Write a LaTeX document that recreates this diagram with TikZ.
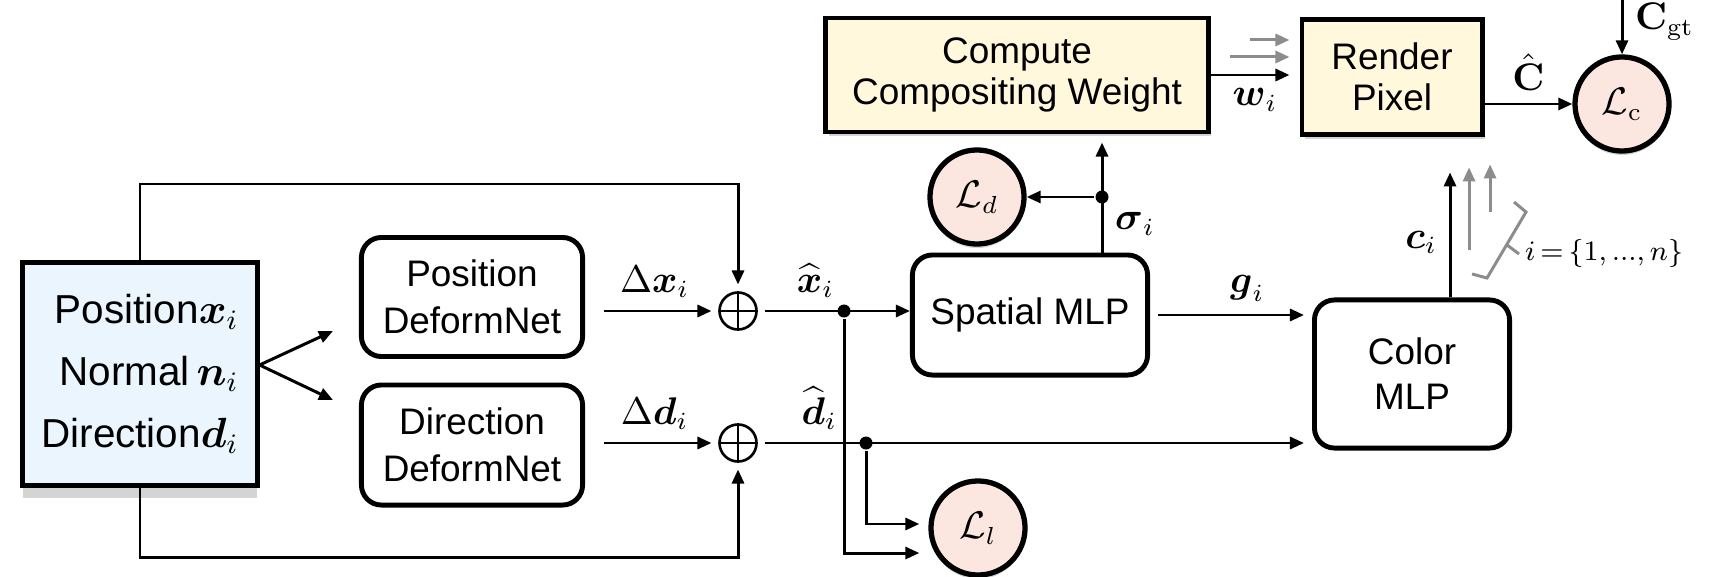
\documentclass[tikz,border=0pt]{standalone}
\usepackage{amsmath, amssymb}
\usepackage[no-math]{fontspec}
\setmainfont{Liberation Sans}
\usepackage{tikz}
\usetikzlibrary{arrows.meta, shadows}

\definecolor{inblue}{HTML}{EAF5FD}
\definecolor{softyellow}{HTML}{FFF8DC}
\definecolor{softpink}{HTML}{FCE7E0}
\definecolor{shadowgray}{HTML}{D4D4D4}

\begin{document}
\begin{tikzpicture}[x=0.01cm, y=-0.01cm, ->,
      >={Triangle[length=0.14cm,width=0.12cm]},
      line width=0.85pt,
      every node/.append style={font=\fontsize{10.5}{11.8}\selectfont},
      inbox/.style={draw=black, line width=1.4pt, fill=inblue, align=right,
        font=\fontsize{11.5}{17.6}\selectfont,
        drop shadow={shadow xshift=0cm, shadow yshift=-0.13cm, fill=shadowgray, opacity=1}},
      netbox/.style={draw=black, line width=1.4pt, rounded corners=0.2cm, fill=white, align=center},
      yellowbox/.style={draw=black, line width=1.4pt, fill=softyellow, align=center,
        drop shadow={shadow xshift=0.03cm, shadow yshift=-0.04cm, fill=shadowgray, opacity=1}},
      lossnode/.style={draw=black, circle, line width=1.5pt, fill=softpink, minimum size=0.94cm, inner sep=0pt,
        drop shadow={shadow xshift=0cm, shadow yshift=-0.04cm, fill=shadowgray, opacity=1}},
      plusnode/.style={draw=black, circle, line width=0.75pt, minimum size=0.37cm, inner sep=0pt, outer sep=0.08cm,
        path picture={\draw [-, line width=0.75pt] (path picture bounding box.north) -- (path picture bounding box.south)
          (path picture bounding box.west) -- (path picture bounding box.east);}},
      splitdot/.style={circle, fill=black, inner sep=0pt, minimum size=0.13cm},
      greyarrow/.style={draw=black!45}]
    \useasboundingbox (0,0) rectangle (1722,576);

    \node (input) [inbox, minimum width=2.34cm, minimum height=2.22cm] at (140,374)
      {Position$\boldsymbol{x}_i$\\Normal\,$\boldsymbol{n}_i$\\Direction$\boldsymbol{d}_i$};
    \node (posnet) [netbox, minimum width=2.21cm, minimum height=1.19cm, font=\fontsize{10.5}{13.4}\selectfont] at (472,297) {Position\\DeformNet};
    \node (dirnet) [netbox, minimum width=2.21cm, minimum height=1.2cm, font=\fontsize{10.5}{13.4}\selectfont] at (472,445) {Direction\\DeformNet};
    \node (plusx) [plusnode] at (738,311) {};
    \node (plusd) [plusnode] at (738,443) {};
    \node (spatial) [netbox, minimum width=2.35cm, minimum height=1.2cm] at (1030,315) {Spatial MLP};
    \node (color) [netbox, minimum width=1.95cm, minimum height=1.48cm, font=\fontsize{10.5}{12.8}\selectfont] at (1412,374) {Color\\MLP};
    \node (compute) [yellowbox, minimum width=3.82cm, minimum height=1.14cm] at (1017,75) {Compute\\Compositing Weight};
    \node (render) [yellowbox, minimum width=1.8cm, minimum height=1.15cm] at (1392,77) {Render\\Pixel};
    \node (Ld) [lossnode] at (977,197) {$\mathcal{L}_d$};
    \node (Ll) [lossnode] at (978,528) {$\mathcal{L}_l$};
    \node (Lc) [lossnode] at (1622,104) {$\mathcal{L}_{\mathrm{c}}$};
    \node (xsplit) [splitdot] at (844,311) {};
    \node (dsplit) [splitdot] at (866,443) {};
    \node (sigsplit) [splitdot] at (1102,197) {};

    \coordinate (topy) at (0,184);
    \coordinate (boty) at (0,557);
    \coordinate (fork) at ([yshift=0.09cm]input.east);
    \coordinate (gt) at (1622,0);

    \draw (input.north) |- (plusx |- topy) -- (plusx);
    \draw (input.south) |- (plusd |- boty) -- (plusd);
    \draw (fork) -- ([xshift=-0.26cm,yshift=-0.34cm]posnet.west);
    \draw (fork) -- ([xshift=-0.26cm,yshift=0.45cm]dirnet.west);
    \draw [shorten <=0.19cm] (posnet.east |- plusx) -- (plusx) node [pos=0.55, above] {$\Delta\boldsymbol{x}_i$};
    \draw [shorten <=0.19cm] (dirnet.east |- plusd) -- (plusd) node [pos=0.55, above] {$\Delta\boldsymbol{d}_i$};
    \draw (plusx) -- (spatial.west |- plusx) node [pos=0.35, above] {$\widehat{\boldsymbol{x}}_i$};
    \draw [shorten >=0.08cm] (plusd) -- (color.west |- plusd) node [pos=0.1, above] {$\widehat{\boldsymbol{d}}_i$};
    \draw (xsplit) |- ([xshift=-0.09cm,yshift=-0.25cm]Ll.west);
    \draw (dsplit) |- ([xshift=-0.09cm,yshift=0.04cm]Ll.west);
    \draw [shorten <=0.08cm, shorten >=0.08cm] (spatial.east) -- (color.west |- spatial.east) node [pos=0.6, above] {$\boldsymbol{g}_i$};
    \draw [shorten >=0.08cm] (sigsplit |- spatial.north) -- (sigsplit |- compute.south) node [pos=0.24, right] {$\boldsymbol{\sigma}_i$};
    \draw (sigsplit) -- (Ld);
    \draw [shorten >=0.1cm] (compute.east) -- (render.west |- compute.east) node [midway, below] {$\boldsymbol{w}_i$};
    \draw [greyarrow, shorten >=0.1cm] ([xshift=-0.49cm,yshift=0.37cm]render.west) -- ([yshift=0.37cm]render.west);
    \draw [greyarrow, shorten >=0.1cm] ([xshift=-0.69cm,yshift=0.2cm]render.west) -- ([yshift=0.2cm]render.west);
    \draw (render.east |- Lc) -- (Lc) node [midway, above] {$\hat{\mathbf{C}}$};
    \draw (gt) -- (Lc) node [pos=0.4, right] {$\mathbf{C}_{\mathrm{gt}}$};
    \draw ([xshift=0.38cm]color.north) -- ([xshift=0.38cm,yshift=1.25cm]color.north) node [pos=0.44, left] {$\boldsymbol{c}_i$};
    \draw [greyarrow] ([xshift=0.57cm,yshift=0.47cm]color.north) -- ([xshift=0.57cm,yshift=1.3cm]color.north);
    \draw [greyarrow] ([xshift=0.78cm,yshift=0.85cm]color.north) -- ([xshift=0.78cm,yshift=1.33cm]color.north);
    \draw [-, greyarrow] (1472,274) -- (1487,278) -- (1526,212) -- (1514,202) (1507,245) -- (1519,254);
    \node (range) [anchor=west, font=\fontsize{8}{9}\selectfont] at (1512,253) {$i\mkern-2mu=\mkern-2mu\{1,{.}{.}{.},n\}$};
  \end{tikzpicture}
\end{document}
